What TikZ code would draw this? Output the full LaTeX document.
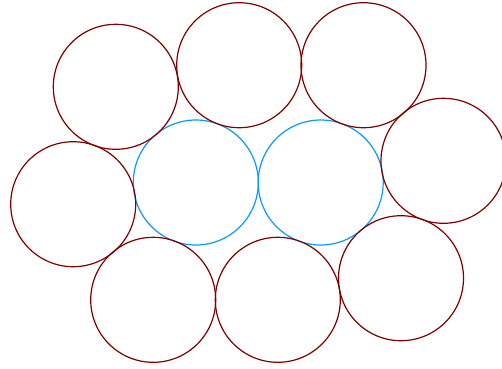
\documentclass[tikz,border=0pt]{standalone}
\definecolor{maroonc}{RGB}{128,0,0}
\definecolor{bluec}{RGB}{10,155,245}
\begin{document}
\begin{tikzpicture}[x=1pt,y=-1pt,
  redc/.style={draw=maroonc,line width=1.2pt,circle,minimum size=125pt,inner sep=0pt},
  bluecirc/.style={draw=bluec,line width=1.2pt,circle,minimum size=125pt,inner sep=0pt}]
\useasboundingbox (0,0) rectangle (502,368);
\node[bluecirc] (b1) at (195.8,182.5) {};
\node[bluecirc] (b2) at (320.7,182.5) {};
\node[redc] (r1) at (115.8,86.8) {};
\node[redc] (r2) at (239.2,65.2) {};
\node[redc] (r3) at (363.5,65.2) {};
\node[redc] (r4) at (443.5,160.8) {};
\node[redc] (r5) at (73.2,204.2) {};
\node[redc] (r6) at (153.2,299.8) {};
\node[redc] (r7) at (277.8,299.8) {};
\node[redc] (r8) at (401,278.2) {};
\end{tikzpicture}
\end{document}
